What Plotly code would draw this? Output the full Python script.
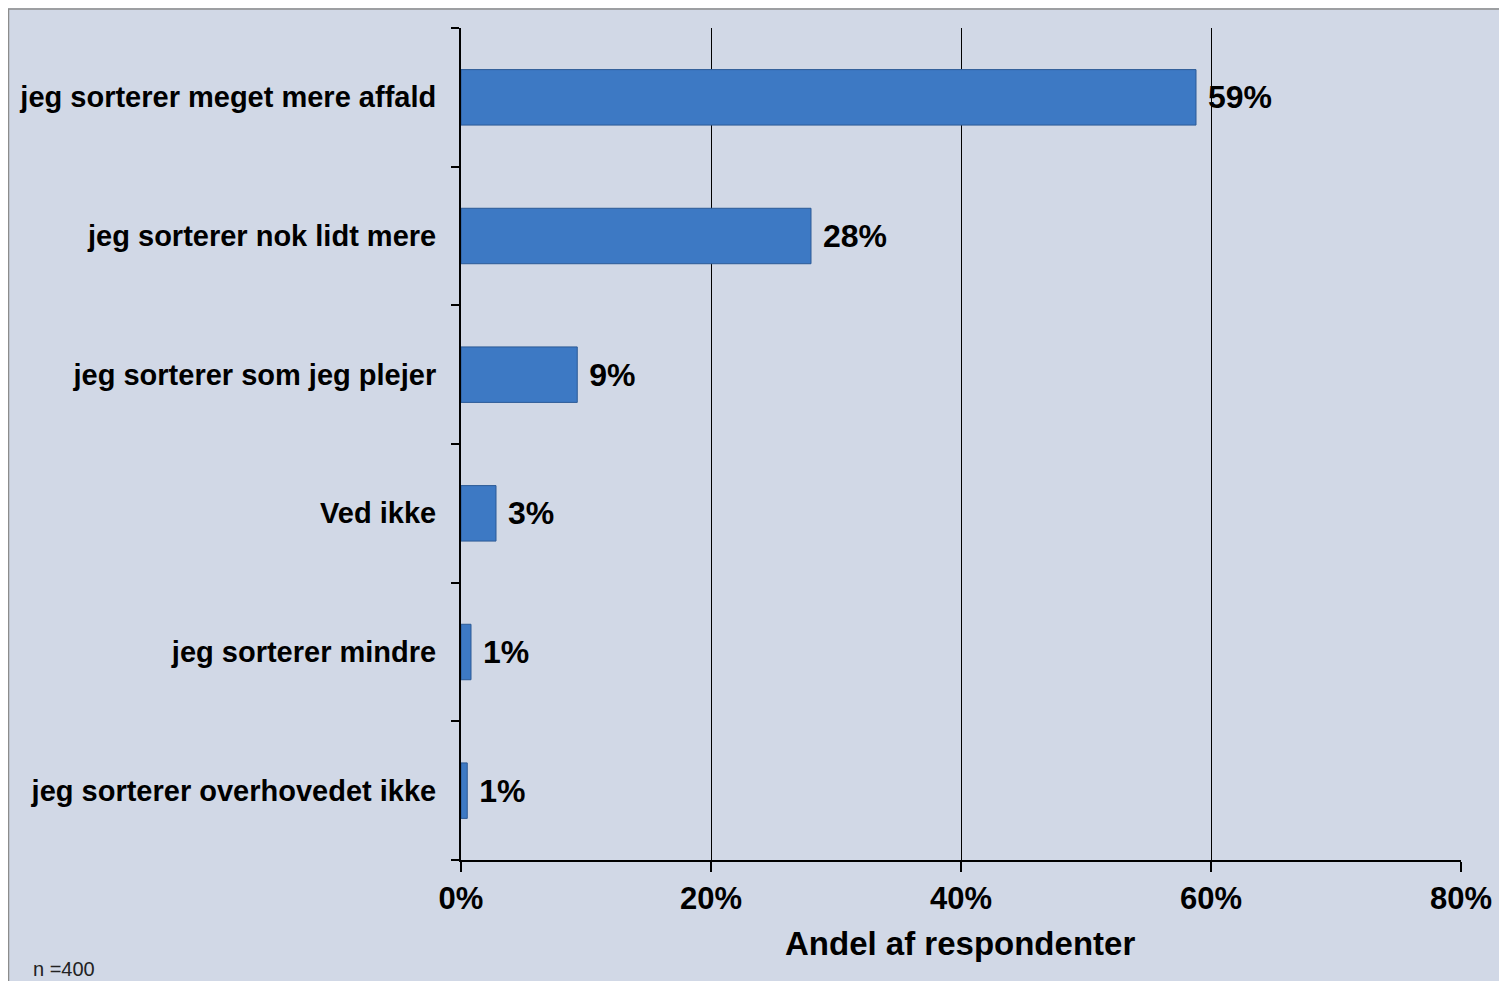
import plotly.graph_objects as go

categories = [
    "jeg sorterer meget mere affald",
    "jeg sorterer nok lidt mere",
    "jeg sorterer som jeg plejer",
    "Ved ikke",
    "jeg sorterer mindre",
    "jeg sorterer overhovedet ikke",
]
values = [58.8, 28.0, 9.3, 2.8, 0.8, 0.5]
value_labels = ["59%", "28%", "9%", "3%", "1%", "1%"]
x_ticks = [0, 20, 40, 60, 80]
x_tick_labels = ["0%", "20%", "40%", "60%", "80%"]

BG = "#D1D8E6"
FONT = "Liberation Sans, Arial, sans-serif"

fig = go.Figure()
fig.add_trace(go.Bar(
    y=categories,
    x=values,
    orientation="h",
    marker=dict(color="#3D79C4", line=dict(color="#2C5A96", width=1)),
    text=[" " + t for t in value_labels],
    textposition="outside",
    textfont=dict(family=FONT, size=32, color="#000000", weight="bold"),
    cliponaxis=False,
    width=0.4,
))

fig.update_layout(
    width=1499, height=973,
    paper_bgcolor=BG, plot_bgcolor=BG,
    margin=dict(l=453, r=46, t=20, b=121, autoexpand=False),
    showlegend=False,
    font=dict(family=FONT, color="#000000"),
    xaxis=dict(
        range=[0, 80],
        tickvals=x_ticks, ticktext=x_tick_labels,
        showgrid=True, gridcolor="#000000", gridwidth=1,
        zeroline=False,
        showline=True, linecolor="#000000", linewidth=2,
        ticks="outside", ticklen=10, tickcolor="#000000", tickwidth=2,
        tickfont=dict(family=FONT, size=31, color="#000000", weight="bold"),
        ticklabelstandoff=0,
        automargin=False,
        fixedrange=True,
    ),
    yaxis=dict(
        categoryorder="array", categoryarray=categories[::-1],
        showgrid=False, zeroline=False,
        showline=True, linecolor="#000000", linewidth=2,
        ticks="outside", ticklen=8, tickcolor="#000000", tickwidth=2,
        tickson="boundaries",
        tickfont=dict(family=FONT, size=29, color="#000000", weight="bold"),
        ticklabelstandoff=17,
        automargin=False,
        fixedrange=True,
    ),
    shapes=[
        dict(type="rect", xref="paper", yref="paper",
             x0=(8.5 - 461) / 1000, x1=(1540 - 461) / 1000,
             y0=(860 - 1000) / 832, y1=(860 - 9) / 832,
             line=dict(color="#8C8C8C", width=1.5), fillcolor="rgba(0,0,0,0)",
             layer="below"),
    ],
    annotations=[
        dict(text="<b>Andel af respondenter</b>", xref="paper", yref="paper",
             x=(960 - 461) / 1000, y=(860 - 943) / 832, xanchor="center", yanchor="middle",
             showarrow=False, font=dict(family=FONT, size=33, color="#000000")),
        dict(text="n =400", xref="paper", yref="paper",
             x=(31 - 461) / 1000, y=(860 - 969) / 832, xanchor="left", yanchor="middle",
             showarrow=False, font=dict(family=FONT, size=20, color="#222222")),
    ],
)

fig.write_html("out.html")
